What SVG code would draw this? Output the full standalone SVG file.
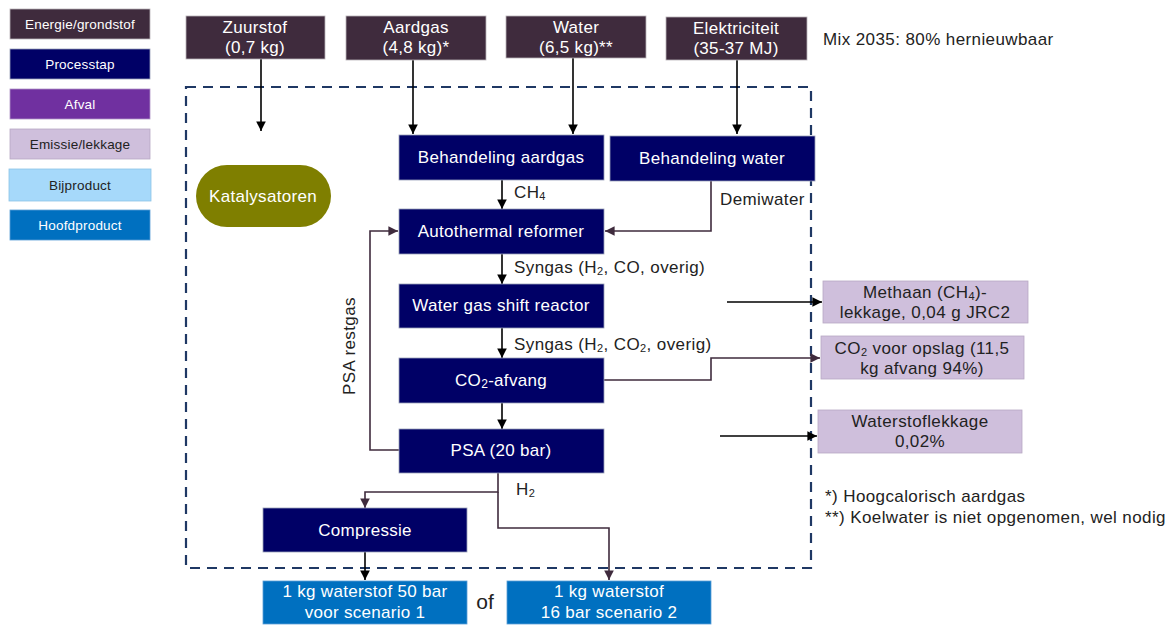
<svg xmlns="http://www.w3.org/2000/svg" width="1176" height="625" viewBox="0 0 1176 625">
  <style>
    text { font-family: "Liberation Sans", Arial, sans-serif; }
    .lt { font-size: 13.5px; letter-spacing: 0.2px; text-anchor: middle; dominant-baseline: central; }
    .nt { font-size: 17px; letter-spacing: 0.3px; text-anchor: middle; dominant-baseline: central; fill: #ffffff; }
    .lab { font-size: 17px; letter-spacing: 0.4px; fill: #222222; dominant-baseline: central; }
    .src { fill: #3f2b3d; stroke: #b9b3b8; stroke-width: 0.8; }
    .proc { fill: #000066; stroke: #9aa0b8; stroke-width: 0.8; }
    .emis { fill: #cfbfdc; stroke: #b7a9c3; stroke-width: 0.8; }
    .main { fill: #0070c0; stroke: #5a9fd6; stroke-width: 0.8; }
    .blk { fill: none; stroke: #000000; stroke-width: 1.6; }
    .plm { fill: none; stroke: #3f2b3d; stroke-width: 1.6; }
  </style>
  <defs>
    <marker id="ab" viewBox="0 0 10 10" refX="10" refY="5" markerWidth="6" markerHeight="6" orient="auto" markerUnits="strokeWidth">
      <path d="M0,0 L10,5 L0,10 z" fill="#000000"/>
    </marker>
    <marker id="ap" viewBox="0 0 10 10" refX="10" refY="5" markerWidth="6" markerHeight="6" orient="auto" markerUnits="strokeWidth">
      <path d="M0,0 L10,5 L0,10 z" fill="#3f2b3d"/>
    </marker>
  </defs>
  <rect width="1176" height="625" fill="#ffffff"/>

  <!-- legend -->
  <g id="legend">
    <rect x="10" y="9" width="140" height="30" fill="#3f2b3d" stroke="#b9b3b8" stroke-width="0.8"/>
    <text class="lt" x="80" y="24" fill="#ffffff">Energie/grondstof</text>
    <rect x="10" y="49" width="140" height="30" fill="#000066" stroke="#9aa0b8" stroke-width="0.8"/>
    <text class="lt" x="80" y="64" fill="#ffffff">Processtap</text>
    <rect x="10" y="89" width="140" height="30" fill="#7030a0" stroke="#b094c6" stroke-width="0.8"/>
    <text class="lt" x="80" y="104" fill="#ffffff">Afval</text>
    <rect x="10" y="129" width="140" height="30" fill="#cfbfdc" stroke="#b7a9c3" stroke-width="0.8"/>
    <text class="lt" x="80" y="144" fill="#222222">Emissie/lekkage</text>
    <rect x="9" y="169" width="142" height="32" fill="#a6d9fa" stroke="#8cc3e6" stroke-width="0.8"/>
    <text class="lt" x="80" y="185" fill="#222222">Bijproduct</text>
    <rect x="10" y="210" width="140" height="30" fill="#0070c0" stroke="#5a9fd6" stroke-width="0.8"/>
    <text class="lt" x="80" y="225" fill="#ffffff">Hoofdproduct</text>
  </g>

  <!-- system boundary -->
  <rect id="boundary" x="186" y="87" width="625" height="481" fill="none" stroke="#1f3864" stroke-width="2.2" stroke-dasharray="10,7"/>

  <!-- connectors -->
  <g id="connectors">
    <line class="blk" x1="261" y1="59" x2="261" y2="131" marker-end="url(#ab)"/>
    <line class="blk" x1="413" y1="60" x2="413" y2="134" marker-end="url(#ab)"/>
    <line class="blk" x1="573" y1="58" x2="573" y2="134" marker-end="url(#ab)"/>
    <line class="blk" x1="737" y1="60" x2="737" y2="134" marker-end="url(#ab)"/>
    <line class="blk" x1="502" y1="180" x2="502" y2="209" marker-end="url(#ab)"/>
    <polyline class="plm" points="711,181 711,231 605,231" marker-end="url(#ap)"/>
    <polyline class="plm" points="399,450 370,450 370,231 398,231" marker-end="url(#ap)"/>
    <line class="blk" x1="502" y1="254" x2="502" y2="284" marker-end="url(#ab)"/>
    <line class="blk" x1="502" y1="328" x2="502" y2="358" marker-end="url(#ab)"/>
    <line class="blk" x1="502" y1="403" x2="502" y2="429" marker-end="url(#ab)"/>
    <line class="blk" x1="727" y1="302" x2="822" y2="302" marker-end="url(#ab)"/>
    <polyline class="plm" points="604,380 711,380 711,358 820,358" marker-end="url(#ap)"/>
    <line class="blk" x1="720" y1="436" x2="817" y2="436" marker-end="url(#ab)"/>
    <polyline class="plm" points="498,473 498,492 365,492 365,508" marker-end="url(#ap)"/>
    <polyline class="plm" points="498,492 498,528 609,528 609,580" marker-end="url(#ap)"/>
    <line class="blk" x1="365" y1="552" x2="365" y2="580" marker-end="url(#ab)"/>
  </g>

  <!-- connector labels -->
  <g id="labels">
    <text class="lab" x="514" y="192">CH<tspan font-size="11" dy="4">4</tspan></text>
    <text class="lab" x="720" y="199">Demiwater</text>
    <text class="lab" x="514" y="267">Syngas (H<tspan font-size="11" dy="4">2</tspan><tspan dy="-4">, CO, overig)</tspan></text>
    <text class="lab" x="514" y="344">Syngas (H<tspan font-size="11" dy="4">2</tspan><tspan dy="-4">, CO</tspan><tspan font-size="11" dy="4">2</tspan><tspan dy="-4">, overig)</tspan></text>
    <text class="lab" x="0" y="0" text-anchor="middle" transform="translate(349,346) rotate(-90)">PSA restgas</text>
    <text class="lab" x="516" y="489">H<tspan font-size="11" dy="4">2</tspan></text>
    <text class="lab" x="823" y="39">Mix 2035: 80% hernieuwbaar</text>
    <text class="lab" x="825" y="496">*) Hoogcalorisch aardgas</text>
    <text class="lab" x="825" y="517">**) Koelwater is niet opgenomen, wel nodig</text>
    <text x="485" y="601" font-size="21" fill="#222222" text-anchor="middle" dominant-baseline="central">of</text>
  </g>

  <!-- inputs -->
  <g id="zuurstof">
    <rect class="src" x="186" y="16" width="139" height="43"/>
    <text class="nt" x="255" y="27">Zuurstof</text>
    <text class="nt" x="255" y="47">(0,7 kg)</text>
  </g>
  <g id="aardgas">
    <rect class="src" x="346" y="16" width="140" height="44"/>
    <text class="nt" x="416" y="27">Aardgas</text>
    <text class="nt" x="416" y="47">(4,8 kg)*</text>
  </g>
  <g id="water">
    <rect class="src" x="506" y="16" width="140" height="42"/>
    <text class="nt" x="576" y="27">Water</text>
    <text class="nt" x="576" y="47">(6,5 kg)**</text>
  </g>
  <g id="elektriciteit">
    <rect class="src" x="666" y="17" width="141" height="43"/>
    <text class="nt" x="736" y="28">Elektriciteit</text>
    <text class="nt" x="736" y="48">(35-37 MJ)</text>
  </g>

  <!-- process steps -->
  <g id="katalysatoren">
    <rect x="196" y="165" width="135" height="62" rx="31" ry="31" fill="#7f7f00"/>
    <text class="nt" x="263" y="196">Katalysatoren</text>
  </g>
  <g id="behandeling-aardgas">
    <rect class="proc" x="399" y="135" width="205" height="45"/>
    <text class="nt" x="501" y="157">Behandeling aardgas</text>
  </g>
  <g id="behandeling-water">
    <rect class="proc" x="610" y="136" width="205" height="45"/>
    <text class="nt" x="712" y="158">Behandeling water</text>
  </g>
  <g id="autothermal-reformer">
    <rect class="proc" x="399" y="209" width="205" height="45"/>
    <text class="nt" x="501" y="231">Autothermal reformer</text>
  </g>
  <g id="water-gas-shift">
    <rect class="proc" x="399" y="284" width="205" height="44"/>
    <text class="nt" x="501" y="305">Water gas shift reactor</text>
  </g>
  <g id="co2-afvang">
    <rect class="proc" x="399" y="358" width="205" height="45"/>
    <text class="nt" x="501" y="380">CO<tspan font-size="12" dy="4">2</tspan><tspan dy="-4">-afvang</tspan></text>
  </g>
  <g id="psa">
    <rect class="proc" x="399" y="429" width="205" height="44"/>
    <text class="nt" x="501" y="450">PSA (20 bar)</text>
  </g>
  <g id="compressie">
    <rect class="proc" x="263" y="508" width="204" height="44"/>
    <text class="nt" x="365" y="530">Compressie</text>
  </g>

  <!-- emissions -->
  <g id="methaan-lekkage">
    <rect class="emis" x="823" y="281" width="205" height="42"/>
    <text class="lab" x="925" y="292" text-anchor="middle">Methaan (CH<tspan font-size="11" dy="4">4</tspan><tspan dy="-4">)-</tspan></text>
    <text class="lab" x="925" y="312" text-anchor="middle">lekkage, 0,04 g JRC2</text>
  </g>
  <g id="co2-opslag">
    <rect class="emis" x="821" y="336" width="203" height="43"/>
    <text class="lab" x="922" y="348" text-anchor="middle">CO<tspan font-size="11" dy="4">2</tspan><tspan dy="-4"> voor opslag (11,5</tspan></text>
    <text class="lab" x="922" y="368" text-anchor="middle">kg afvang 94%)</text>
  </g>
  <g id="waterstoflekkage">
    <rect class="emis" x="818" y="410" width="204" height="43"/>
    <text class="lab" x="920" y="421" text-anchor="middle">Waterstoflekkage</text>
    <text class="lab" x="920" y="441" text-anchor="middle">0,02%</text>
  </g>

  <!-- products -->
  <g id="product-50bar">
    <rect class="main" x="263" y="581" width="204" height="43"/>
    <text class="nt" x="365" y="591">1 kg waterstof 50 bar</text>
    <text class="nt" x="365" y="612">voor scenario 1</text>
  </g>
  <g id="product-16bar">
    <rect class="main" x="507" y="581" width="204" height="43"/>
    <text class="nt" x="609" y="591">1 kg waterstof</text>
    <text class="nt" x="609" y="612">16 bar scenario 2</text>
  </g>
</svg>
